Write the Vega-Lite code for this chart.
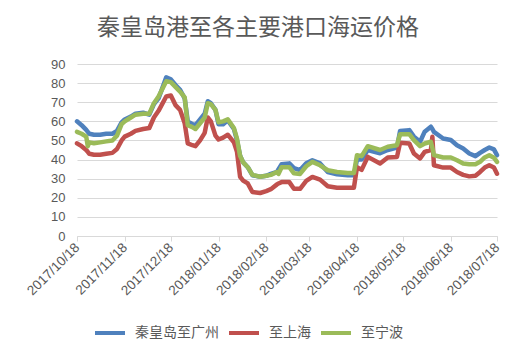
{
  "$schema": "https://vega.github.io/schema/vega-lite/v6.json",
  "width": 420,
  "height": 172,
  "autosize": {"type": "none"},
  "padding": {"left": 77, "top": 64, "right": 16, "bottom": 115},
  "background": "white",
  "title": {
    "text": "秦皇岛港至各主要港口海运价格",
    "font": "Noto Sans CJK SC",
    "fontSize": 23,
    "fontWeight": "normal",
    "color": "#595959",
    "anchor": "middle",
    "dx": -29,
    "offset": 18
  },
  "config": {
    "view": {"stroke": null},
    "legend": {"orient": "none", "legendX": 16, "legendY": 252}
  },
  "data": {
    "values": [
      {"date": "2017/10/18", "gz": 60, "sh": 48.5, "nb": 54.5},
      {"date": "2017/10/21", "gz": 58, "sh": 47, "nb": 53.5},
      {"date": "2017/10/24", "gz": 55.5, "sh": 45, "nb": 52},
      {"date": "2017/10/25", "gz": 54.5, "sh": 44, "nb": 47},
      {"date": "2017/10/26", "gz": 53.5, "sh": 43, "nb": 49},
      {"date": "2017/10/29", "gz": 53, "sh": 42.5, "nb": 48.5},
      {"date": "2017/11/02", "gz": 53, "sh": 42.5, "nb": 49},
      {"date": "2017/11/06", "gz": 53.5, "sh": 43, "nb": 49.5},
      {"date": "2017/11/10", "gz": 53.5, "sh": 43.5, "nb": 50},
      {"date": "2017/11/13", "gz": 55, "sh": 45.5, "nb": 52.5},
      {"date": "2017/11/16", "gz": 59.5, "sh": 50, "nb": 58.5},
      {"date": "2017/11/18", "gz": 61, "sh": 52, "nb": 60},
      {"date": "2017/11/22", "gz": 62.5, "sh": 53.5, "nb": 62},
      {"date": "2017/11/25", "gz": 64, "sh": 55, "nb": 63.5},
      {"date": "2017/11/30", "gz": 64.5, "sh": 56, "nb": 64},
      {"date": "2017/12/04", "gz": 63.5, "sh": 56.5, "nb": 64},
      {"date": "2017/12/07", "gz": 69, "sh": 62, "nb": 69.5},
      {"date": "2017/12/10", "gz": 72, "sh": 65.5, "nb": 73},
      {"date": "2017/12/15", "gz": 83, "sh": 73, "nb": 81},
      {"date": "2017/12/18", "gz": 82, "sh": 73.5, "nb": 80.5},
      {"date": "2017/12/21", "gz": 79, "sh": 68.5, "nb": 78},
      {"date": "2017/12/24", "gz": 76.5, "sh": 66, "nb": 75.5},
      {"date": "2017/12/27", "gz": 72, "sh": 59, "nb": 72.5},
      {"date": "2017/12/29", "gz": 60, "sh": 48.5, "nb": 58},
      {"date": "2018/01/01", "gz": 58.5, "sh": 47.5, "nb": 57},
      {"date": "2018/01/03", "gz": 58, "sh": 47, "nb": 56},
      {"date": "2018/01/06", "gz": 61, "sh": 50, "nb": 59},
      {"date": "2018/01/09", "gz": 64, "sh": 54, "nb": 62},
      {"date": "2018/01/11", "gz": 70.5, "sh": 62, "nb": 69.5},
      {"date": "2018/01/13", "gz": 69.5, "sh": 60, "nb": 69},
      {"date": "2018/01/16", "gz": 66, "sh": 52.5, "nb": 66},
      {"date": "2018/01/18", "gz": 58.5, "sh": 50.5, "nb": 59.5},
      {"date": "2018/01/21", "gz": 58.5, "sh": 51.5, "nb": 60},
      {"date": "2018/01/24", "gz": 60.5, "sh": 53, "nb": 61},
      {"date": "2018/01/28", "gz": 56, "sh": 49, "nb": 56.5},
      {"date": "2018/01/30", "gz": 50, "sh": 44, "nb": 51},
      {"date": "2018/02/01", "gz": 42, "sh": 31, "nb": 42},
      {"date": "2018/02/03", "gz": 38.5, "sh": 29, "nb": 38.5},
      {"date": "2018/02/06", "gz": 36, "sh": 27.5, "nb": 36},
      {"date": "2018/02/09", "gz": 31.8, "sh": 23, "nb": 32},
      {"date": "2018/02/14", "gz": 31, "sh": 22.5, "nb": 31},
      {"date": "2018/02/18", "gz": 31.5, "sh": 23.5, "nb": 31.5},
      {"date": "2018/02/21", "gz": 32.5, "sh": 24.5, "nb": 32},
      {"date": "2018/02/25", "gz": 33.5, "sh": 27, "nb": 33.5},
      {"date": "2018/02/26", "gz": 35, "sh": 27.5, "nb": 32.5},
      {"date": "2018/02/28", "gz": 37.5, "sh": 28.2, "nb": 36},
      {"date": "2018/03/05", "gz": 38, "sh": 28.2, "nb": 36},
      {"date": "2018/03/08", "gz": 35.5, "sh": 24.7, "nb": 32.8},
      {"date": "2018/03/12", "gz": 34.5, "sh": 24.7, "nb": 32.5},
      {"date": "2018/03/16", "gz": 38, "sh": 28.8, "nb": 36.5},
      {"date": "2018/03/20", "gz": 39.6, "sh": 30.9, "nb": 38.8},
      {"date": "2018/03/25", "gz": 38, "sh": 29.5, "nb": 37},
      {"date": "2018/03/30", "gz": 33.5, "sh": 26, "nb": 34.4},
      {"date": "2018/04/05", "gz": 32.3, "sh": 25.3, "nb": 33.5},
      {"date": "2018/04/12", "gz": 31.8, "sh": 25.3, "nb": 33},
      {"date": "2018/04/16", "gz": 31.8, "sh": 25.3, "nb": 33},
      {"date": "2018/04/18", "gz": 40, "sh": 36, "nb": 42.3},
      {"date": "2018/04/21", "gz": 40, "sh": 34.6, "nb": 41.8},
      {"date": "2018/04/25", "gz": 45, "sh": 41.4, "nb": 47},
      {"date": "2018/05/03", "gz": 43.3, "sh": 37.9, "nb": 45},
      {"date": "2018/05/08", "gz": 45, "sh": 41.1, "nb": 46.7},
      {"date": "2018/05/14", "gz": 46.3, "sh": 41.4, "nb": 47.5},
      {"date": "2018/05/16", "gz": 55, "sh": 48.8, "nb": 53.3},
      {"date": "2018/05/22", "gz": 55.4, "sh": 48.4, "nb": 53.3},
      {"date": "2018/05/25", "gz": 52, "sh": 43.2, "nb": 50.2},
      {"date": "2018/05/29", "gz": 49.3, "sh": 40.6, "nb": 47},
      {"date": "2018/06/01", "gz": 54.6, "sh": 44, "nb": 48.4},
      {"date": "2018/06/05", "gz": 57.2, "sh": 45, "nb": 49.3},
      {"date": "2018/06/06", "gz": 56, "sh": 51.9, "nb": 46},
      {"date": "2018/06/07", "gz": 54.5, "sh": 37, "nb": 42.3},
      {"date": "2018/06/13", "gz": 51, "sh": 35.8, "nb": 41.1},
      {"date": "2018/06/18", "gz": 50.2, "sh": 35.8, "nb": 41.1},
      {"date": "2018/06/22", "gz": 47.5, "sh": 33.5, "nb": 39.6},
      {"date": "2018/06/26", "gz": 45.8, "sh": 32, "nb": 37.9},
      {"date": "2018/06/30", "gz": 43.2, "sh": 31.2, "nb": 37.5},
      {"date": "2018/07/04", "gz": 41.8, "sh": 31.5, "nb": 37.5},
      {"date": "2018/07/07", "gz": 43.5, "sh": 33.5, "nb": 38.8},
      {"date": "2018/07/10", "gz": 45, "sh": 35.8, "nb": 41.1},
      {"date": "2018/07/13", "gz": 46.3, "sh": 37, "nb": 42.3},
      {"date": "2018/07/16", "gz": 45.3, "sh": 35.8, "nb": 41},
      {"date": "2018/07/18", "gz": 42.3, "sh": 32.6, "nb": 38.8}
    ]
  },
  "transform": [
    {"fold": ["gz", "sh", "nb"], "as": ["key", "value"]},
    {"lookup": "key", "from": {"data": {"values": [
      {"key": "gz", "series": "秦皇岛至广州"},
      {"key": "sh", "series": "至上海"},
      {"key": "nb", "series": "至宁波"}
    ]}, "key": "key", "fields": ["series"]}}
  ],
  "mark": {"type": "line", "strokeWidth": 4.5, "strokeJoin": "round", "strokeCap": "round"},
  "encoding": {
    "x": {
      "field": "date",
      "type": "temporal",
      "scale": {"domain": [{"year": 2017, "month": 10, "date": 18}, {"year": 2018, "month": 7, "date": 18}]},
      "axis": {
        "title": null,
        "format": "%Y/%m/%d",
        "values": [
          {"year": 2017, "month": 10, "date": 18},
          {"year": 2017, "month": 11, "date": 18},
          {"year": 2017, "month": 12, "date": 18},
          {"year": 2018, "month": 1, "date": 18},
          {"year": 2018, "month": 2, "date": 18},
          {"year": 2018, "month": 3, "date": 18},
          {"year": 2018, "month": 4, "date": 18},
          {"year": 2018, "month": 5, "date": 18},
          {"year": 2018, "month": 6, "date": 18},
          {"year": 2018, "month": 7, "date": 18}
        ],
        "labelAngle": -45,
        "labelAlign": "right",
        "labelBaseline": "middle",
        "labelFont": "Liberation Sans",
        "labelFontSize": 13.5,
        "labelColor": "#595959",
        "labelPadding": 4,
        "labelOverlap": false,
        "labelFlush": false,
        "grid": false,
        "domainColor": "#d9d9d9",
        "tickColor": "#d9d9d9",
        "tickSize": 5
      }
    },
    "y": {
      "field": "value",
      "type": "quantitative",
      "scale": {"domain": [0, 90], "nice": false},
      "axis": {
        "title": null,
        "values": [0, 10, 20, 30, 40, 50, 60, 70, 80, 90],
        "domain": false,
        "ticks": false,
        "labelFont": "Liberation Sans",
        "labelFontSize": 13,
        "labelColor": "#595959",
        "labelPadding": 12,
        "gridColor": "#d9d9d9",
        "gridWidth": 1
      }
    },
    "color": {
      "field": "series",
      "type": "nominal",
      "sort": ["秦皇岛至广州", "至上海", "至宁波"],
      "scale": {"domain": ["秦皇岛至广州", "至上海", "至宁波"], "range": ["#4F81BD", "#C0504D", "#9BBB59"]},
      "legend": {
        "title": null,
        "direction": "horizontal",
        "symbolType": "stroke",
        "symbolSize": 900,
        "symbolStrokeWidth": 4,
        "labelFont": "Noto Sans CJK SC",
        "labelFontSize": 14,
        "labelColor": "#595959",
        "columnPadding": 2,
        "labelOffset": 8
      }
    },
    "order": {"field": "date", "type": "temporal"}
  }
}
